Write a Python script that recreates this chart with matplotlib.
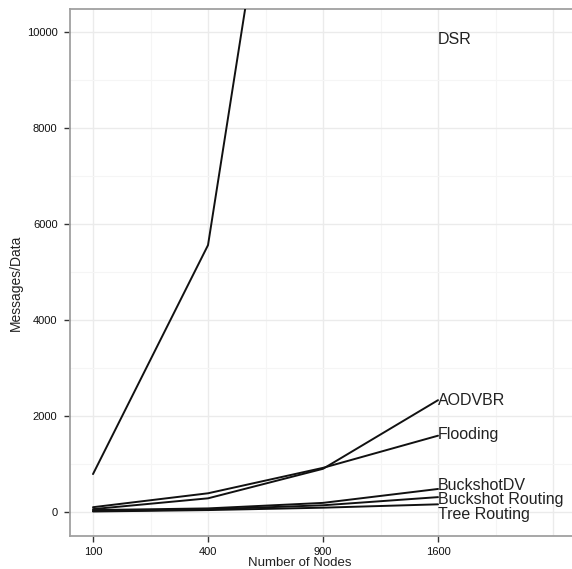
import numpy as np
import matplotlib.pyplot as plt

# -----------------------------
# DATA
# -----------------------------
nodes = [100, 400, 900, 1600]
tick_labels = ["100", "400", "900", "1600"]

protocols = ["DSR", "AODVBR", "Flooding", "BuckshotDV", "Buckshot Routing", "Tree Routing"]
dsr = [790, 5560, 20800, 40000]
aodvbr = [60, 285, 900, 2330]
flooding = [100, 390, 920, 1590]
buckshot_dv = [40, 75, 190, 480]
buckshot_routing = [20, 55, 140, 310]
tree_routing = [10, 40, 90, 160]
series = [dsr, aodvbr, flooding, buckshot_dv, buckshot_routing, tree_routing]

# where the end labels sit (value units)
label_y = [9850, 2330, 1620, 560, 260, -60]

# -----------------------------
# FIGURE
# -----------------------------
plt.rcParams["font.family"] = ["Liberation Sans", "DejaVu Sans"]

fig = plt.figure(figsize=(5.72, 5.69), dpi=100)
ax = fig.add_axes([70 / 572, 1 - 536 / 569, 1 - 70 / 572, (536 - 9) / 569])

x = np.sqrt(nodes)
for vals in series:
    ax.plot(x, vals, color="#111111", lw=1.4, solid_capstyle="round", zorder=3)

for name, ly in zip(protocols, label_y):
    ax.text(x[-1], ly, name, fontsize=11.5, ha="left", va="center",
            color="#222222", clip_on=False, zorder=4)

ax.set_xlim(8, 51.65)
ax.set_ylim(-500, 10480)

ax.set_xticks(x)
ax.set_xticklabels(tick_labels)
ax.set_xticks([15, 25, 35, 45], minor=True)
ax.set_yticks([0, 2000, 4000, 6000, 8000, 10000])
ax.set_yticks([1000, 3000, 5000, 7000, 9000], minor=True)

ax.grid(which="major", color="#ebebeb", lw=1.0, zorder=0)
ax.grid(which="minor", color="#f5f5f5", lw=0.8, zorder=0)
ax.axvline(50, color="#ebebeb", lw=1.0, zorder=0)
ax.set_axisbelow(True)

for side in ["left", "bottom", "top"]:
    ax.spines[side].set_color("#a0a0a0")
    ax.spines[side].set_linewidth(1.3)
ax.spines["right"].set_visible(False)

ax.tick_params(axis="both", which="major", length=4, width=1.0, color="#333333",
               labelsize=8, labelcolor="#111111", pad=5)
ax.tick_params(axis="x", which="major", pad=4)
ax.tick_params(axis="both", which="minor", length=0)

ax.set_xlabel("Number of Nodes", fontsize=9.5, color="#222222")
ax.xaxis.set_label_coords(0.458, -0.039)
ax.set_ylabel("Messages/Data", fontsize=10, color="#222222")
ax.yaxis.set_label_coords(-0.094, 0.48)

fig.savefig("out.png", dpi=100)
